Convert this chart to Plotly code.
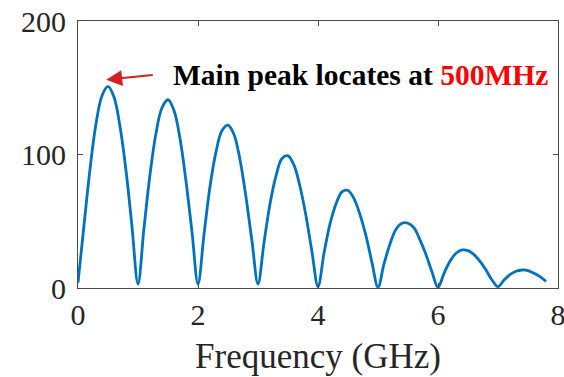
import plotly.graph_objects as go

freq_ghz = [round(i * 0.1, 1) for i in range(79)]
magnitude = [
    4, 47, 89, 123, 144, 151, 143, 121, 88, 46,
    3, 45, 85, 116, 135, 141, 133, 112, 80, 42,
    3, 40, 76, 102, 118, 122, 115, 96, 68, 35,
    3, 34, 63, 84, 97, 99, 92, 76, 54, 27,
    1, 26, 48, 63, 72, 73, 67, 55, 39, 19,
    0.5, 18, 33, 44, 48.5, 48.5, 45, 36, 25, 12,
    0.5, 11, 20, 26, 28.5, 28, 25, 20, 13.5, 6,
    1, 6, 10, 12.5, 13.5, 13, 11, 8.5, 5,
]
x_ticks = [0, 2, 4, 6, 8]
y_ticks = [0, 100, 200]
x_title = "Frequency (GHz)"
note_text = "Main peak locates at "
note_value = "500MHz"
arrow_tip_x, arrow_tip_y = 0.47, 156

font_family = "Liberation Serif, Times New Roman, serif"
axis_color = "#4a4a4a"

fig = go.Figure()
fig.add_trace(go.Scatter(
    x=freq_ghz, y=magnitude, mode="lines",
    line=dict(color="#0072BD", width=2.8, shape="spline", smoothing=1.0),
    showlegend=False, hoverinfo="skip",
))

axis_common = dict(
    showline=True, linecolor=axis_color, linewidth=1, mirror="ticks",
    ticks="inside", ticklen=5, tickwidth=1, tickcolor=axis_color,
    showgrid=False, zeroline=False, automargin=False,
    ticklabeloverflow="allow",
    tickfont=dict(family=font_family, size=30, color="#262626"),
)
fig.update_xaxes(range=[0, 8], tickvals=x_ticks, ticktext=[str(v) for v in x_ticks],
                 title=dict(text=x_title, font=dict(family=font_family, size=35, color="#262626"), standoff=13),
                 **axis_common)
fig.update_yaxes(range=[0, 200], tickvals=y_ticks, ticktext=[str(v) for v in y_ticks],
                 ticklabelstandoff=5, **axis_common)

fig.add_annotation(
    x=1.55, y=159.5, xref="x", yref="y", xanchor="left", yanchor="middle",
    text="<b>" + note_text + "<span style='color:#FF0000'>" + note_value + "</span></b>",
    showarrow=False, font=dict(family=font_family, size=29.5, color="#000000"),
)
fig.add_annotation(
    x=arrow_tip_x, y=arrow_tip_y, xref="x", yref="y",
    ax=48, ay=-5, axref="pixel", ayref="pixel",
    text="", showarrow=True, arrowhead=2, arrowsize=1.6, arrowwidth=2,
    arrowcolor="#D42020", standoff=0,
)

fig.update_layout(
    width=564, height=377,
    margin=dict(l=78, r=6, t=21, b=89),
    plot_bgcolor="white", paper_bgcolor="white",
    font=dict(family=font_family),
)
# remove the default page margin so the figure fills the 564x377 window exactly
fig.write_html(
    "out.html",
    config={"displayModeBar": False, "staticPlot": True},
    post_script="document.body.style.margin='0';document.body.style.overflow='hidden';",
)
